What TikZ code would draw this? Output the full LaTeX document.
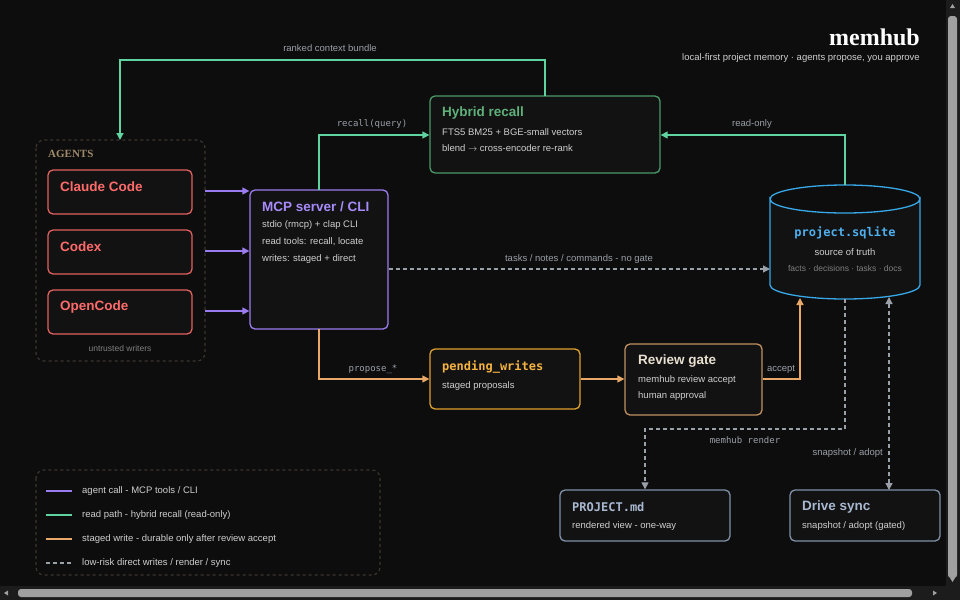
\documentclass[tikz,border=0pt]{standalone}
\usepackage{fontspec}
\setmainfont{Liberation Sans}
\newfontfamily\monof{DejaVu Sans Mono}
\newfontfamily\seriff{Liberation Serif}
\usetikzlibrary{arrows.meta,shapes.geometric}
\definecolor{bg}{HTML}{0D0D0D}
\definecolor{boxbg}{HTML}{121212}
\definecolor{cpurple}{HTML}{9B7CF0}
\definecolor{cgreen}{HTML}{5FD3A0}
\definecolor{cgreenb}{HTML}{4A9A6A}
\definecolor{corange}{HTML}{E8A868}
\definecolor{cyel}{HTML}{E0A030}
\definecolor{ctan}{HTML}{C09060}
\definecolor{cred}{HTML}{E06060}
\definecolor{cblue}{HTML}{38A8E8}
\definecolor{cslate}{HTML}{8090A8}
\definecolor{cgray}{HTML}{9AA0A8}
\definecolor{txt}{HTML}{CFCFCF}
\definecolor{dimt}{HTML}{808080}
\definecolor{grpdash}{HTML}{3A3530}
\definecolor{sbtrack}{HTML}{1C1C1C}
\definecolor{sbthumb}{HTML}{A0A0A0}
\definecolor{tred}{HTML}{FF6B6B}
\definecolor{tpurple}{HTML}{A78BFA}
\definecolor{tgreen}{HTML}{5FB07A}
\definecolor{tblue}{HTML}{4FB0F0}
\definecolor{tyel}{HTML}{F5B342}
\definecolor{tcream}{HTML}{E8E0D0}
\definecolor{tslate}{HTML}{A8B8D0}
\definecolor{tagents}{HTML}{A08A6A}
\begin{document}
\begin{tikzpicture}[x=1pt,y=-1pt,
  box/.style={draw,line width=1.3pt,rounded corners=5pt,fill=boxbg},
  ttl/.style={anchor=west,inner sep=0pt,font=\fontsize{13.5}{15}\selectfont\bfseries},
  sub/.style={anchor=west,inner sep=0pt,font=\fontsize{9.5}{11}\selectfont,text=txt},
  lbl/.style={font=\fontsize{9.5}{11}\selectfont,text=cgray},
  mlbl/.style={font=\monof\fontsize{9}{11}\selectfont,text=cgray},
  arr/.style={line width=1.3pt,-{Triangle[length=7pt,width=7pt]}},
  dsh/.style={line width=1.2pt,dashed,dash pattern=on 4pt off 3pt,cgray}]
\useasboundingbox (0,0) rectangle (960,600);
\fill[bg] (0,0) rectangle (960,600);
% scrollbars
\fill[sbtrack] (946,0) rectangle (960,586);
\fill[sbtrack] (0,586) rectangle (960,600);
\fill[sbthumb,rounded corners=3pt] (948,16) rectangle (957,578);
\fill[sbthumb,rounded corners=3pt] (18,589) rectangle (912,597);
\fill[sbthumb] (950,8) -- (955,8) -- (952.5,4) -- cycle;
\fill[sbthumb] (950,578) -- (955,578) -- (952.5,582) -- cycle;
\fill[sbthumb] (8,590.5) -- (8,595.5) -- (4,593) -- cycle;
\fill[sbthumb] (933,590.5) -- (933,595.5) -- (937,593) -- cycle;
% title
\node[anchor=east,inner sep=0pt,text=white,font=\seriff\fontsize{24}{26}\selectfont\bfseries] (title) at (920,37) {memhub};
\node[anchor=east,inner sep=0pt,text=txt,font=\fontsize{9.5}{11}\selectfont] (subt) at (920,58) {local-first project memory · agents propose, you approve};
% agents group
\draw[grpdash,line width=1.2pt,dashed,rounded corners=8pt] (36,140) rectangle (205,361);
\node[anchor=west,inner sep=0pt,text=tagents,font=\seriff\fontsize{11}{12}\selectfont\bfseries] (agl) at (48,154) {AGENTS};
\node[box,draw=cred,minimum width=144pt,minimum height=44pt] (cc) at (120,192) {};
\node[ttl,text=tred] at (60,187) {Claude Code};
\node[box,draw=cred,minimum width=144pt,minimum height=44pt] (cx) at (120,252) {};
\node[ttl,text=tred] at (60,247) {Codex};
\node[box,draw=cred,minimum width=144pt,minimum height=44pt] (oc) at (120,312) {};
\node[ttl,text=tred] at (60,307) {OpenCode};
\node[text=dimt,font=\fontsize{8.5}{10}\selectfont] (untr) at (120,348) {untrusted writers};
% MCP
\node[box,draw=cpurple,minimum width=138pt,minimum height=139pt] (mcp) at (319,259.5) {};
\node[ttl,text=tpurple] at (262,207) {MCP server / CLI};
\node[sub] at (262,225) {stdio (rmcp) + clap CLI};
\node[sub] at (262,242) {read tools: recall, locate};
\node[sub] at (262,259) {writes: staged + direct};
\coordinate (a1) at (205,191); \coordinate (a2) at (205,251); \coordinate (a3) at (205,311);
\draw[arr,cpurple] (a1) -- (a1 -| mcp.west);
\draw[arr,cpurple] (a2) -- (a2 -| mcp.west);
\draw[arr,cpurple] (a3) -- (a3 -| mcp.west);
% hybrid
\node[box,draw=cgreenb,minimum width=230pt,minimum height=77pt] (hyb) at (545,134.5) {};
\node[ttl,text=tgreen] at (442,113) {Hybrid recall};
\node[sub] at (442,132) {FTS5 BM25 + BGE-small vectors};
\node[sub] at (442,148) {blend $\rightarrow$ cross-encoder re-rank};
% cylinder
\draw[cblue,line width=1.3pt,fill=boxbg] (770,199) arc[start angle=180,end angle=360,x radius=75,y radius=-14] -- (920,285) arc[start angle=0,end angle=-180,x radius=75,y radius=-14] -- cycle;
\draw[cblue,line width=1.3pt] (770,199) arc[start angle=180,end angle=0,x radius=75,y radius=-14];
\node[inner sep=0pt,minimum width=150pt,minimum height=114pt] (db) at (845,242) {};
\node[text=tblue,font=\monof\fontsize{12}{13}\selectfont\bfseries] at (845,233) {project.sqlite};
\node[text=txt,font=\fontsize{9.5}{11}\selectfont] at (845,252) {source of truth};
\node[text=dimt,font=\fontsize{8.5}{10}\selectfont] at (845,268) {facts · decisions · tasks · docs};
% pending
\node[box,draw=cyel,minimum width=150pt,minimum height=60pt] (pend) at (505,379) {};
\node[anchor=west,inner sep=0pt,text=tyel,font=\monof\fontsize{12}{13}\selectfont\bfseries] at (442,367) {pending\_writes};
\node[sub] at (442,386) {staged proposals};
% review
\node[box,draw=ctan,minimum width=137pt,minimum height=71pt] (rev) at (693.5,379.5) {};
\node[ttl,text=tcream] at (638,361) {Review gate};
\node[sub] at (638,380) {memhub review accept};
\node[sub] at (638,396) {human approval};
% project.md / drive
\node[box,draw=cslate,minimum width=170pt,minimum height=51pt] (pmd) at (645,515.5) {};
\node[anchor=west,inner sep=0pt,text=tslate,font=\monof\fontsize{12}{13}\selectfont\bfseries] at (572,507) {PROJECT.md};
\node[sub] at (572,526) {rendered view - one-way};
\node[box,draw=cslate,minimum width=150pt,minimum height=51pt] (drv) at (865,515.5) {};
\node[ttl,text=tslate] at (802,507) {Drive sync};
\node[sub] at (802,526) {snapshot / adopt (gated)};
% connectors
\draw[arr,cgreen] (319,190) -- (319,135) -- (hyb.west |- 0,135);
\node[mlbl] at (372,124) {recall(query)};
\draw[arr,cgreen] (545,96) -- (545,60) -- (120,60) -- (120,140);
\node[lbl] at (330,48) {ranked context bundle};
\draw[arr,cgreen] (845,185) -- (845,135) -- (hyb.east |- 0,135);
\node[lbl] at (752,124) {read-only};
\draw[dsh,-{Triangle[length=7pt,width=7pt]}] (mcp.east |- 0,269) -- (770,269);
\node[lbl] at (579,259) {tasks / notes / commands - no gate};
\draw[arr,corange] (319,329) -- (319,379) -- (pend.west);
\node[mlbl] at (373,369) {propose\_*};
\draw[arr,corange] (pend.east) -- (rev.west |- pend.east);
\draw[arr,corange] (rev.east |- 0,379) -- (800,379) -- (800,298);
\node[lbl] at (781,369) {accept};
\draw[dsh,-{Triangle[length=7pt,width=7pt]}] (845,299) -- (845,429) -- (645,429) -- (pmd.north);
\node[mlbl] at (745,440) {memhub render};
\draw[dsh,{Triangle[length=7pt,width=7pt]}-{Triangle[length=7pt,width=7pt]}] (889,297) -- (889,490);
\node[lbl,anchor=east,inner sep=0pt] at (883,453) {snapshot / adopt};
% legend
\draw[grpdash,line width=1.2pt,dashed,rounded corners=8pt] (36,470) rectangle (380,575);
\draw[line width=2pt,cpurple] (46,491) -- (72,491);
\node[sub] at (82,491) {agent call - MCP tools / CLI};
\draw[line width=2pt,cgreen] (46,515) -- (72,515);
\node[sub] at (82,515) {read path - hybrid recall (read-only)};
\draw[line width=2pt,corange] (46,539) -- (72,539);
\node[sub] at (82,539) {staged write - durable only after review accept};
\draw[line width=1.5pt,cgray,dashed,dash pattern=on 4pt off 3pt] (46,563) -- (72,563);
\node[sub] at (82,563) {low-risk direct writes / render / sync};
\end{tikzpicture}
\end{document}
